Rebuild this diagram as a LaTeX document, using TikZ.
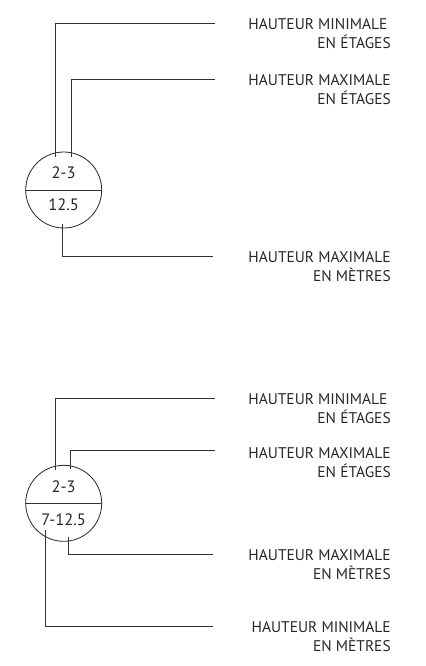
\documentclass[tikz,border=0pt]{standalone}
\usepackage{fontspec}
\setmainfont{PT Sans}
\usetikzlibrary{calc}

\tikzset{
  leader/.style={draw=black!80, line width=0.6pt},
  marker/.style={circle, draw=black!85, line width=0.6pt, minimum size=57pt, inner sep=0pt},
  val/.style={font=\fontsize{12.4}{14}\selectfont, text=black!85, inner sep=0pt, anchor=base},
  lbl/.style={font=\fontsize{11.6}{14.25}\selectfont, text=black!85, align=right, inner sep=0pt, anchor=base east}
}

\begin{document}
\begin{tikzpicture}[x=0.75pt, y=-0.75pt]
\useasboundingbox (0,0) rectangle (425,666);

% top marker
\node[marker] (c1) at (63.7,190) {};
\draw[leader] (c1.west) -- (c1.east);
\node[val] (c1up) at ($(c1.center)+(0,-11)$) {2-3};
\node[val] (c1dn) at ($(c1.center)+(0,20.5)$) {12.5};

% top labels
\node[lbl] (t1) at (391,48.3) {HAUTEUR MINIMALE\hspace*{2.5pt}\\EN ÉTAGES};
\node[lbl] (t2) at (391,104.8) {HAUTEUR MAXIMALE\\EN ÉTAGES};
\node[lbl] (t3) at (391,281.3) {HAUTEUR MAXIMALE\\EN MÈTRES};
\coordinate (e1) at (215,23.3);
\coordinate (e2) at (215,79.3);
\coordinate (e3) at (212.7,256);

% top leaders
\draw[leader] ($(c1.center)+(-8,-33)$) |- (e1);
\draw[leader] ($(c1.center)+(7.3,-33)$) |- (e2);
\draw[leader] ($(c1.center)+(-1.4,34)$) |- (e3);

% bottom marker
\node[marker] (c2) at (63.7,503.3) {};
\draw[leader] (c2.west) -- (c2.east);
\node[val] (c2up) at ($(c2.center)+(0,-10.6)$) {2-3};
\node[val] (c2dn) at ($(c2.center)+(0,21.7)$) {7-12.5};

% bottom labels
\node[lbl] (b1) at (391,423) {HAUTEUR MINIMALE\hspace*{2.5pt}\\EN ÉTAGES};
\node[lbl] (b2) at (391,477.3) {HAUTEUR MAXIMALE\\EN ÉTAGES};
\node[lbl] (b3) at (391,579) {HAUTEUR MAXIMALE\\EN MÈTRES};
\node[lbl] (b4) at (391,651.3) {HAUTEUR MINIMALE\\EN MÈTRES};
\coordinate (f1) at (215,398.3);
\coordinate (f2) at (215,450.7);
\coordinate (f3) at (212.7,554);
\coordinate (f4) at (212.7,626.7);

% bottom leaders
\draw[leader] ($(c2.center)+(-8,-33)$) |- (f1);
\draw[leader] ($(c2.center)+(7,-34)$) |- (f2);
\draw[leader] ($(c2.center)+(4.6,33.4)$) |- (f3);
\draw[leader] ($(c2.center)+(-18,27)$) |- (f4);
\end{tikzpicture}
\end{document}
